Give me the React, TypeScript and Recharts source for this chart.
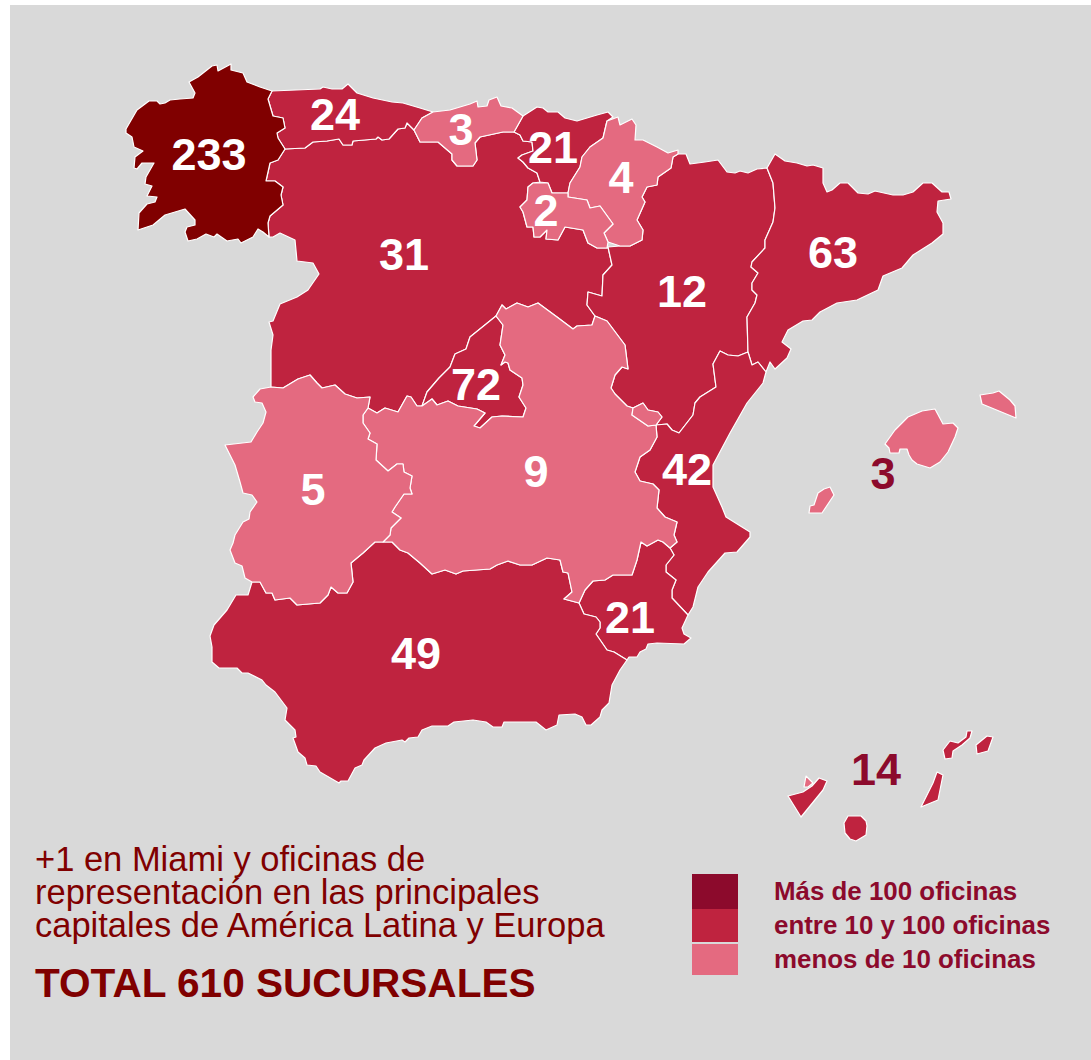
import { ScatterChart, Scatter, XAxis, YAxis } from 'recharts'

type Pair = [number, number]

// region outlines, in map units
const galicia: Pair[] = [[212,66],[217,65],[218,71],[231,64],[231,70],[243,73],[247,82],[260,87],[272,91],[268,99],[273,116],[283,118],[285,128],[277,133],[278,138],[285,149],[278,160],[270,163],[266,181],[275,181],[283,187],[281,195],[283,205],[270,216],[268,223],[269,237],[263,232],[258,229],[253,237],[241,243],[238,239],[227,241],[217,234],[214,237],[206,234],[197,239],[188,241],[185,232],[187,227],[195,225],[195,220],[185,209],[165,215],[153,225],[138,230],[139,213],[147,204],[155,202],[157,197],[147,196],[152,186],[145,184],[146,177],[154,163],[142,163],[137,169],[134,168],[135,157],[143,151],[134,147],[132,137],[126,133],[126,129],[137,110],[149,101],[157,101],[160,104],[165,103],[170,100],[180,99],[193,98],[195,93],[189,82],[198,77]]
const asturias: Pair[] = [[272,91],[320,89],[323,87],[332,89],[342,89],[348,84],[357,93],[373,98],[392,102],[403,103],[420,108],[433,112],[422,118],[414,130],[407,123],[405,128],[398,129],[389,139],[382,140],[378,137],[376,139],[353,141],[352,145],[343,145],[339,139],[327,141],[313,142],[305,148],[285,149],[278,138],[277,133],[285,128],[283,118],[273,116],[268,99]]
const cantabria: Pair[] = [[433,112],[450,110],[470,104],[477,101],[478,107],[487,106],[489,100],[497,97],[501,106],[512,108],[523,116],[514,132],[503,132],[480,137],[475,143],[477,160],[473,166],[457,166],[452,160],[452,154],[438,142],[420,142],[414,130],[422,118]]
const paisVasco: Pair[] = [[523,116],[537,107],[543,108],[548,112],[558,112],[565,118],[577,121],[597,115],[608,112],[613,117],[607,121],[603,138],[590,147],[582,157],[580,167],[570,183],[568,193],[552,193],[548,183],[540,182],[537,173],[528,168],[523,162],[518,158],[522,155],[533,151],[532,142],[523,141],[520,135],[514,132]]
const navarra: Pair[] = [[607,121],[618,117],[620,125],[632,119],[636,125],[635,140],[643,140],[657,147],[668,153],[678,150],[678,154],[673,157],[671,168],[658,177],[657,185],[647,187],[642,197],[645,202],[637,220],[643,230],[642,240],[630,246],[620,246],[608,242],[604,233],[613,224],[600,206],[590,208],[587,200],[568,197],[568,193],[570,183],[580,167],[582,157],[590,147],[603,138]]
const rioja: Pair[] = [[528,187],[533,183],[548,183],[552,193],[568,193],[568,197],[587,200],[590,208],[600,206],[613,224],[604,233],[608,242],[607,248],[597,248],[588,243],[583,230],[565,227],[558,240],[546,239],[547,230],[540,237],[534,237],[533,227],[527,227],[523,212],[520,207],[527,200]]
const aragon: Pair[] = [[678,154],[686,154],[690,164],[705,162],[718,160],[727,172],[735,173],[740,171],[748,173],[757,169],[767,168],[773,183],[775,208],[773,222],[765,240],[765,248],[752,262],[751,267],[758,273],[752,283],[752,290],[757,295],[755,303],[747,317],[748,352],[738,356],[728,355],[720,351],[713,364],[716,387],[700,397],[695,403],[693,415],[679,433],[672,430],[667,424],[656,425],[662,417],[658,412],[648,410],[643,403],[633,408],[627,406],[615,394],[611,388],[615,375],[622,367],[628,369],[625,345],[607,321],[595,316],[587,305],[588,292],[602,296],[603,275],[612,265],[608,247],[620,246],[630,246],[642,240],[643,230],[637,220],[645,202],[642,197],[647,187],[657,185],[658,177],[671,168],[673,157]]
const cataluna: Pair[] = [[767,168],[775,154],[785,161],[797,163],[807,166],[813,165],[823,168],[823,172],[823,183],[827,192],[832,190],[840,183],[848,183],[858,193],[868,194],[875,191],[893,195],[903,195],[913,192],[923,183],[932,183],[942,192],[949,192],[951,199],[938,201],[937,212],[943,223],[943,234],[932,243],[913,255],[902,268],[883,276],[878,290],[857,300],[837,303],[820,312],[812,320],[803,321],[788,330],[782,342],[791,349],[787,358],[775,369],[770,362],[766,372],[758,362],[752,365],[748,352],[747,317],[755,303],[757,295],[752,290],[752,283],[758,273],[751,267],[752,262],[765,248],[765,240],[773,222],[775,208],[773,183]]
const valencia: Pair[] = [[748,352],[752,365],[758,362],[766,372],[763,383],[747,403],[730,433],[713,465],[713,487],[722,507],[726,517],[750,532],[750,537],[737,552],[725,553],[708,572],[698,587],[693,607],[688,615],[672,598],[672,590],[676,580],[666,572],[666,565],[674,555],[670,548],[677,542],[674,535],[677,522],[665,517],[657,508],[659,490],[653,484],[640,481],[635,472],[640,457],[650,450],[657,437],[656,425],[667,424],[672,430],[679,433],[693,415],[695,403],[700,397],[716,387],[713,364],[720,351],[728,355],[738,356]]
const ademuz: Pair[] = [[656,425],[662,417],[658,412],[648,410],[643,403],[633,408],[632,415],[648,426]]
const murcia: Pair[] = [[641,542],[647,546],[658,540],[663,542],[670,548],[674,555],[666,565],[666,572],[676,580],[672,590],[672,598],[688,615],[682,628],[684,634],[691,638],[684,644],[657,643],[648,644],[646,649],[640,652],[637,657],[629,657],[627,660],[614,652],[607,650],[596,634],[600,628],[600,622],[596,617],[584,614],[579,603],[585,590],[593,581],[605,580],[613,575],[632,575],[637,560]]
const castillaMancha: Pair[] = [[496,316],[502,305],[506,309],[517,303],[528,307],[538,303],[557,317],[573,329],[577,326],[592,325],[595,316],[607,321],[625,345],[628,369],[622,367],[615,375],[611,388],[615,394],[627,406],[633,408],[632,415],[648,426],[656,425],[657,437],[650,450],[640,457],[635,472],[640,481],[653,484],[659,490],[657,508],[665,517],[677,522],[674,535],[677,542],[670,548],[663,542],[658,540],[647,546],[641,542],[637,560],[632,575],[613,575],[605,580],[593,581],[585,590],[579,603],[564,599],[572,592],[568,573],[563,572],[560,560],[547,558],[532,565],[520,565],[508,561],[497,565],[490,569],[463,571],[456,574],[445,570],[432,574],[420,563],[408,553],[400,550],[392,542],[383,542],[390,535],[391,528],[401,518],[392,512],[395,507],[404,494],[412,494],[410,488],[412,476],[404,472],[403,464],[397,464],[388,471],[376,460],[377,444],[368,439],[370,433],[363,423],[363,415],[368,408],[377,413],[385,408],[398,412],[407,396],[411,397],[417,406],[422,406],[432,399],[437,405],[448,401],[458,406],[477,409],[485,413],[474,426],[480,428],[492,417],[502,416],[523,417],[526,408],[519,397],[523,385],[522,378],[510,370],[508,363],[505,362],[501,365],[505,355],[500,345],[503,325]]
const madrid: Pair[] = [[496,316],[503,325],[500,345],[505,355],[501,365],[505,362],[508,363],[510,370],[522,378],[523,385],[519,397],[526,408],[523,417],[502,416],[492,417],[480,428],[474,426],[485,413],[477,409],[458,406],[448,401],[437,405],[432,399],[422,406],[427,392],[439,378],[450,367],[455,354],[466,349],[470,337]]
const castillaLeon: Pair[] = [[285,149],[305,148],[313,142],[327,141],[339,139],[343,145],[352,145],[353,141],[376,139],[378,137],[382,140],[389,139],[398,129],[405,128],[407,123],[414,130],[420,142],[438,142],[452,154],[452,160],[457,166],[473,166],[477,160],[475,143],[480,137],[503,132],[514,132],[520,135],[523,141],[532,142],[533,151],[522,155],[518,158],[523,162],[528,168],[537,173],[540,182],[533,183],[528,187],[527,200],[520,207],[523,212],[527,227],[533,227],[534,237],[540,237],[547,230],[546,239],[558,240],[565,227],[583,230],[588,243],[597,248],[607,248],[608,247],[612,265],[603,275],[602,296],[588,292],[587,305],[595,316],[592,325],[577,326],[573,329],[557,317],[538,303],[528,307],[517,303],[506,309],[502,305],[496,316],[470,337],[466,349],[455,354],[450,367],[439,378],[427,392],[422,406],[417,406],[411,397],[407,396],[398,412],[385,408],[377,413],[368,408],[370,397],[357,398],[345,394],[335,385],[322,388],[317,383],[310,375],[298,379],[283,388],[271,387],[271,350],[273,335],[269,322],[273,321],[280,304],[297,297],[308,290],[310,287],[319,274],[313,263],[297,261],[295,240],[280,233],[273,237],[269,237],[268,223],[270,216],[283,205],[281,195],[283,187],[275,181],[266,181],[270,163],[278,160]]
const extremadura: Pair[] = [[271,387],[260,389],[253,397],[255,402],[262,403],[266,412],[263,423],[257,432],[251,442],[225,445],[235,465],[240,482],[243,493],[252,495],[257,502],[250,512],[249,519],[243,522],[235,535],[233,543],[230,550],[235,563],[242,566],[245,578],[252,582],[260,582],[266,593],[272,593],[275,600],[290,598],[297,605],[320,603],[328,595],[331,587],[338,593],[347,593],[353,582],[351,563],[363,553],[375,542],[383,542],[390,535],[391,528],[401,518],[392,512],[395,507],[404,494],[412,494],[410,488],[412,476],[404,472],[403,464],[397,464],[388,471],[376,460],[377,444],[368,439],[370,433],[363,423],[363,415],[368,408],[370,397],[357,398],[345,394],[335,385],[322,388],[317,383],[310,375],[298,379],[283,388]]
const andalucia: Pair[] = [[236,595],[248,595],[252,582],[260,582],[266,593],[272,593],[275,600],[290,598],[297,605],[320,603],[328,595],[331,587],[338,593],[347,593],[353,582],[351,563],[363,553],[375,542],[383,542],[392,542],[400,550],[408,553],[420,563],[432,574],[445,570],[456,574],[463,571],[490,569],[497,565],[508,561],[520,565],[532,565],[547,558],[560,560],[563,572],[568,573],[572,592],[564,599],[579,603],[584,614],[596,617],[600,622],[600,628],[596,634],[607,650],[614,652],[627,660],[620,670],[612,685],[609,703],[602,710],[600,717],[591,725],[586,725],[582,717],[575,714],[559,715],[557,725],[546,730],[536,722],[504,722],[502,727],[493,727],[486,722],[473,720],[454,722],[448,726],[432,726],[422,730],[418,737],[409,738],[405,742],[402,740],[386,743],[375,748],[364,760],[362,765],[355,768],[348,781],[341,781],[339,783],[320,772],[316,766],[307,765],[305,758],[298,752],[293,738],[296,737],[295,730],[285,720],[287,708],[275,692],[266,685],[262,680],[248,673],[242,673],[237,668],[219,668],[212,662],[212,647],[210,636],[214,625],[227,610]]
const mallorca: Pair[] = [[935,409],[943,424],[953,423],[958,428],[955,437],[948,452],[940,462],[930,468],[917,464],[912,460],[909,455],[907,449],[900,449],[899,453],[890,453],[889,448],[885,444],[895,430],[908,417],[922,411]]
const menorca: Pair[] = [[980,395],[993,393],[999,391],[1010,400],[1015,406],[1016,418],[982,404]]
const ibiza: Pair[] = [[830,487],[834,495],[822,513],[809,513],[810,506],[814,505],[818,493],[824,489]]
const tenerife: Pair[] = [[788,796],[803,792],[812,786],[819,778],[827,781],[823,790],[801,817]]
const teide: Pair[] = [[806,776],[813,783],[808,787],[804,787]]
const granCanaria: Pair[] = [[848,816],[861,816],[866,821],[867,826],[866,835],[856,841],[850,839],[845,833],[844,823]]
const fuerteventura: Pair[] = [[937,772],[943,775],[938,800],[921,807],[933,783]]
const lanzarote: Pair[] = [[972,731],[970,738],[962,745],[953,751],[952,758],[945,759],[943,750],[950,741],[958,743],[966,737],[967,731]]
const graciosa: Pair[] = [[987,736],[993,737],[988,751],[977,754],[976,745]]

const highRegions = [galicia]
const midRegions = [castillaLeon, asturias, paisVasco, aragon, cataluna, valencia, murcia, madrid, andalucia, tenerife, granCanaria, fuerteventura, lanzarote, graciosa]
const lowRegions = [cantabria, navarra, rioja, castillaMancha, ademuz, extremadura, mallorca, menorca, ibiza, teide]

const officeLabels = [
  { x: 209, y: 154, value: 233 }, { x: 335, y: 114, value: 24 }, { x: 461, y: 129, value: 3 },
  { x: 553, y: 147, value: 21 }, { x: 621, y: 177, value: 4 }, { x: 546, y: 210, value: 2 },
  { x: 404, y: 254, value: 31 }, { x: 833, y: 252, value: 63 }, { x: 682, y: 291, value: 12 },
  { x: 476, y: 384, value: 72 }, { x: 313, y: 489, value: 5 }, { x: 536, y: 471, value: 9 },
  { x: 687, y: 469, value: 42 }, { x: 416, y: 653, value: 49 }, { x: 630, y: 617, value: 21 },
]
const islandLabels = [{ x: 883, y: 473, value: 3 }, { x: 876, y: 769, value: 14 }]

const noteLines = ['+1 en Miami y oficinas de', 'representación en las principales', 'capitales de América Latina y Europa']
const legendLabels = ['Más de 100 oficinas', 'entre 10 y 100 oficinas', 'menos de 10 oficinas']

const HIGH = '#800000'
const MID = '#bf233f'
const LOW = '#e46a80'
const INK = '#8c0a2c'
const FONT = '"Liberation Sans", Arial, sans-serif'

const toPoints = (pairs: Pair[]) => pairs.map(([x, y]) => ({ x, y }))

// Scatter hands its line renderer the points in pixels, but forces fill to none
const regionPath = (fill: string) => {
  // eslint-disable-next-line @typescript-eslint/no-explicit-any
  return (props: any) => {
    const d = props.points.map((p: { x: number; y: number }, i: number) => `${i ? 'L' : 'M'}${p.x},${p.y}`).join('') + 'Z'
    return <path d={d} fill={fill} stroke="#fff" strokeWidth={1.2} strokeLinejoin="round" />
  }
}

const noMarker = () => <g />

const numberLabel = (fill: string) => {
  // eslint-disable-next-line @typescript-eslint/no-explicit-any
  return (props: any) => (
    <text x={props.cx} y={props.cy} fill={fill} fontFamily={FONT} fontWeight={700} fontSize={45} textAnchor="middle" dominantBaseline="central">
      {props.payload.value}
    </text>
  )
}

export default function App() {
  const groups: [Pair[][], string][] = [[midRegions, MID], [highRegions, HIGH], [lowRegions, LOW]]
  return (
    <div style={{ position: 'absolute', left: 0, top: 0, width: 1091, height: 1060, background: '#fff', overflow: 'hidden', fontFamily: FONT }}>
      <div style={{ position: 'absolute', left: 10, top: 5, width: 1081, height: 1055, background: '#d9d9d9' }} />
      <ScatterChart width={1091} height={1060} margin={{ top: 0, right: 0, bottom: 0, left: 0 }} style={{ position: 'absolute', left: 0, top: 0 }}>
        <XAxis type="number" dataKey="x" domain={[0, 1091]} hide />
        <YAxis type="number" dataKey="y" domain={[0, 1060]} reversed hide />
        {groups.flatMap(([regions, fill], g) =>
          regions.map((region, i) => (
            <Scatter key={`${g}-${i}`} data={toPoints(region)} line={regionPath(fill)} shape={noMarker} isAnimationActive={false} />
          ))
        )}
        <Scatter data={officeLabels} shape={numberLabel('#fff')} isAnimationActive={false} />
        <Scatter data={islandLabels} shape={numberLabel(INK)} isAnimationActive={false} />
      </ScatterChart>

      <div style={{ position: 'absolute', left: 35, top: 843, color: HIGH, fontSize: 34.5, lineHeight: '33px', whiteSpace: 'nowrap' }}>
        {noteLines.map(line => <div key={line}>{line}</div>)}
      </div>
      <div style={{ position: 'absolute', left: 35, top: 961, color: HIGH, fontSize: 40.6, fontWeight: 700, lineHeight: '44px', whiteSpace: 'nowrap' }}>
        TOTAL 610 SUCURSALES
      </div>

      <div style={{ position: 'absolute', left: 692, top: 874, width: 46, height: 35, background: INK }} />
      <div style={{ position: 'absolute', left: 692, top: 909, width: 46, height: 33, background: MID }} />
      <div style={{ position: 'absolute', left: 692, top: 944, width: 46, height: 31, background: LOW }} />
      <div style={{ position: 'absolute', left: 774, top: 874, color: INK, fontSize: 25.9, fontWeight: 700, lineHeight: '34px', whiteSpace: 'nowrap' }}>
        {legendLabels.map(line => <div key={line}>{line}</div>)}
      </div>
    </div>
  )
}
